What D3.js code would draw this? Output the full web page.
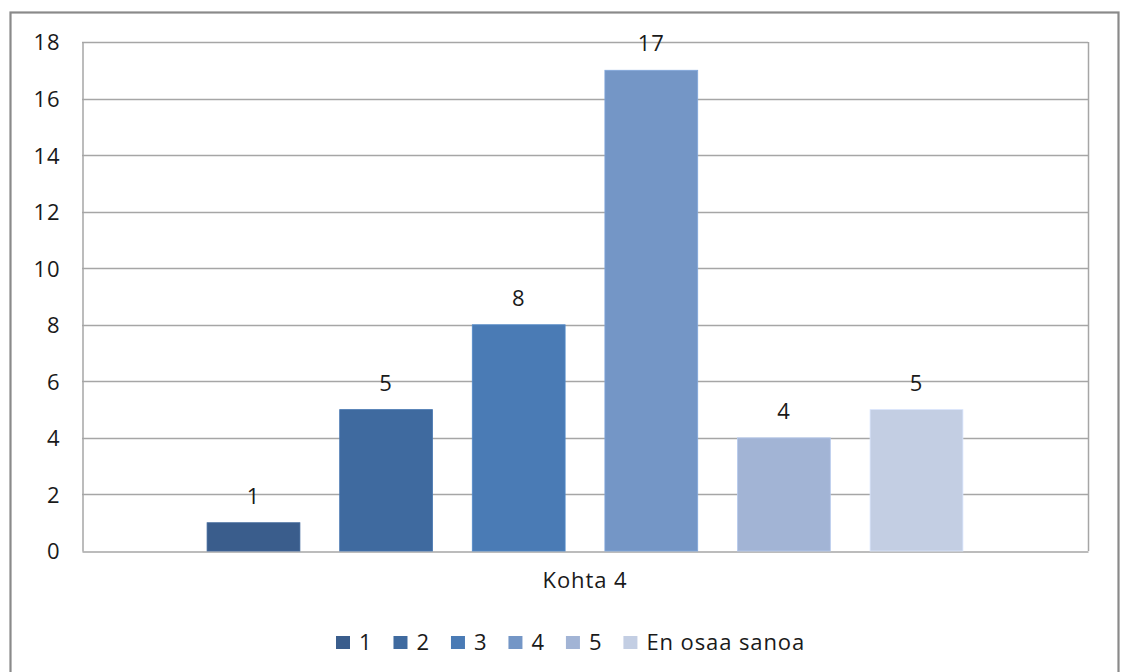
<!DOCTYPE html>
<html><head><meta charset="utf-8">
<script src="https://cdn.jsdelivr.net/npm/d3@7"></script>
<style>
html,body{margin:0;padding:0;background:#fff;}
svg{display:block;font-family:"Open Sans","Liberation Sans",sans-serif;}
svg text{letter-spacing:0.9px;}
</style></head>
<body><svg id="c" width="1122" height="672"></svg>
<script>
const categories = ["Kohta 4"];
const seriesNames = ["1","2","3","4","5","En osaa sanoa"];
const seriesValues = [1,5,8,17,4,5];
const seriesColors = ["#3a5d8c","#3f6a9f","#4a7bb5","#7496c6","#a2b4d5","#c3cee3"];
const yTicks = [0,2,4,6,8,10,12,14,16,18];

const FONT = "'Open Sans','Liberation Sans',sans-serif";
const FS = 22;
const svg = d3.select("#c");
const m = {left:82, right:1088, top:42, bottom:551};

// outer frame
svg.append("rect").attr("x",10.5).attr("y",12.5).attr("width",1108).attr("height",680)
  .attr("fill","#fff").attr("stroke","#8a8a8a").attr("stroke-width",2.2);

const y = d3.scaleLinear().domain([0,18]).range([m.bottom,m.top]);
const x0 = d3.scaleBand().domain(categories).range([m.left,m.right]).paddingInner(0.142).paddingOuter(0.142);
const x1 = d3.scaleBand().domain(seriesNames).range([0,x0.bandwidth()]).paddingInner(0.3).paddingOuter(0);

// gridlines
svg.append("g").selectAll("line").data(yTicks.filter(d=>d>0)).join("line")
  .attr("x1",m.left).attr("x2",m.right)
  .attr("y1",d=>Math.round(y(d))+0.5).attr("y2",d=>Math.round(y(d))+0.5)
  .attr("stroke","#a6a6a6").attr("stroke-width",1.5);
svg.append("line").attr("x1",m.right+0.5).attr("x2",m.right+0.5).attr("y1",m.top).attr("y2",m.bottom)
  .attr("stroke","#a6a6a6").attr("stroke-width",1.5);

// y axis
const gy = svg.append("g").attr("transform",`translate(${m.left+0.5},0)`)
  .call(d3.axisLeft(y).tickValues(yTicks).tickSize(0).tickPadding(22));
gy.select(".domain").attr("stroke","#a6a6a6").attr("stroke-width",1.5);
gy.selectAll("text").attr("font-size",FS).attr("fill","#1a1a1a").attr("font-family",FONT).attr("dy","0.36em");

// x axis
const gx = svg.append("g").attr("transform",`translate(0,${m.bottom+0.5})`)
  .call(d3.axisBottom(x0).tickSize(0).tickPadding(21));
gx.select(".domain").attr("stroke","#a6a6a6").attr("stroke-width",1.5);
gx.selectAll("text").attr("font-size",FS).attr("fill","#1a1a1a").attr("font-family",FONT);

// bars
const data = seriesNames.map((s,i)=>({s, v:seriesValues[i], c:seriesColors[i]}));
const g = svg.append("g").attr("transform",`translate(${x0(categories[0])},0)`);
g.selectAll("rect").data(data).join("rect")
  .attr("x",d=>x1(d.s)).attr("width",x1.bandwidth())
  .attr("y",d=>y(d.v)).attr("height",d=>y(0)-y(d.v))
  .attr("fill",d=>d.c).attr("stroke",d=>d3.color(d.c).brighter(0.3)).attr("stroke-width",0.8);
g.selectAll("text").data(data).join("text")
  .attr("x",d=>x1(d.s)+x1.bandwidth()/2).attr("y",d=>y(d.v)-19)
  .attr("text-anchor","middle").attr("font-size",FS).attr("fill","#1a1a1a").attr("font-family",FONT)
  .text(d=>d.v);

// legend
const lg = svg.append("g");
let lx = 336;
data.forEach(d=>{
  lg.append("rect").attr("x",lx).attr("y",636).attr("width",14).attr("height",13).attr("fill",d.c);
  const t = lg.append("text").attr("x",lx+23).attr("y",650).attr("font-size",FS).attr("fill","#1a1a1a").attr("font-family",FONT).text(d.s);
  lx = lx + 23 + t.node().getComputedTextLength() + 21;
});
</script></body></html>
